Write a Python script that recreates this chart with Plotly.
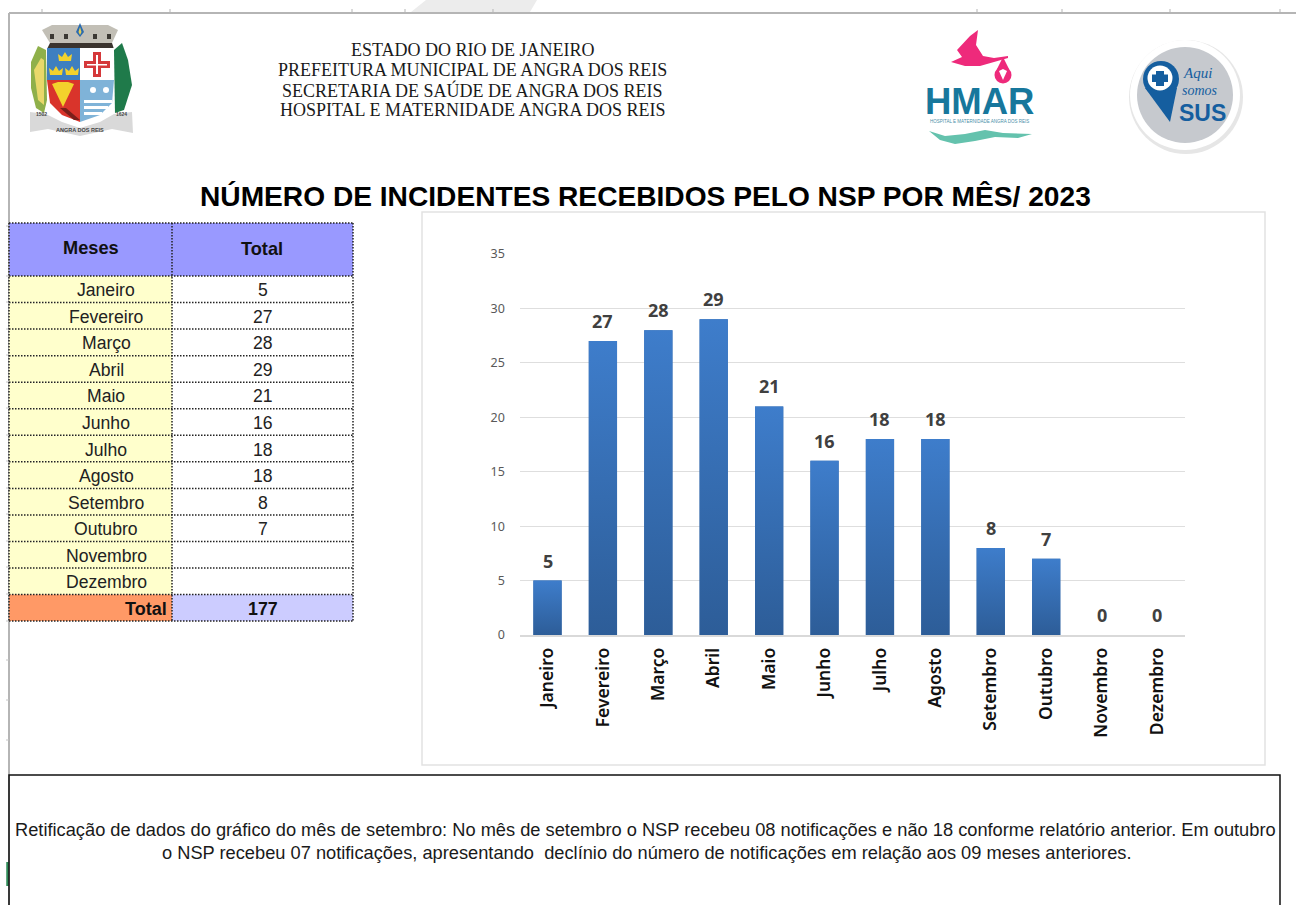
import plotly.graph_objects as go

W, H = 1296, 905
months = ["Janeiro","Fevereiro","Março","Abril","Maio","Junho","Julho","Agosto","Setembro","Outubro","Novembro","Dezembro"]
chart_values = [5,27,28,29,21,16,18,18,8,7,0,0]
table_values = ["5","27","28","29","21","16","18","18","8","7","",""]
table_total = "177"
y_ticks = [0,5,10,15,20,25,30,35]
head_lines = ["ESTADO DO RIO DE JANEIRO","PREFEITURA MUNICIPAL DE ANGRA DOS REIS","SECRETARIA DE SAÚDE DE ANGRA DOS REIS","HOSPITAL E MATERNIDADE ANGRA DOS REIS"]
title_text = "NÚMERO DE INCIDENTES RECEBIDOS PELO NSP POR MÊS/ 2023"
note_lines = ["Retificação de dados do gráfico do mês de setembro: No mês de setembro o NSP recebeu 08 notificações e não 18 conforme relatório anterior. Em outubro",
              "o NSP recebeu 07 notificações, apresentando  declínio do número de notificações em relação aos 09 meses anteriores."]

px = lambda x: x / W
py = lambda y: 1 - y / H
shapes, annos = [], []

def rect(x0, y0, x1, y1, fill="rgba(0,0,0,0)", color="rgba(0,0,0,0)", width=0, dash="solid", layer="below"):
    shapes.append(dict(type="rect", xref="paper", yref="paper", x0=px(x0), x1=px(x1), y0=py(y0), y1=py(y1),
                       fillcolor=fill, line=dict(color=color, width=width, dash=dash), layer=layer))

def line(x0, y0, x1, y1, color="#333", width=1, dash="solid", layer="below"):
    shapes.append(dict(type="line", xref="paper", yref="paper", x0=px(x0), x1=px(x1), y0=py(y0), y1=py(y1),
                       line=dict(color=color, width=width, dash=dash), layer=layer))

def circle(cx, cy, r, fill, color="rgba(0,0,0,0)", width=0):
    shapes.append(dict(type="circle", xref="paper", yref="paper", x0=px(cx-r), x1=px(cx+r), y0=py(cy+r), y1=py(cy-r),
                       fillcolor=fill, line=dict(color=color, width=width), layer="above"))

def poly(points, fill, color="rgba(0,0,0,0)", width=0, layer="above"):
    pts = [f"{px(x):.5f},{py(y):.5f}" for x, y in points]
    path = "M" + " L".join(pts) + " Z"
    shapes.append(dict(type="path", xref="paper", yref="paper", path=path, fillcolor=fill,
                       line=dict(color=color, width=width), layer=layer))

def text(x, y, s, size, color="#000", font="Liberation Sans", bold=False, italic=False, anchor="center", angle=0):
    if bold: s = f"<b>{s}</b>"
    if italic: s = f"<i>{s}</i>"
    annos.append(dict(xref="paper", yref="paper", x=px(x), y=py(y), text=s, showarrow=False, xanchor=anchor,
                      yanchor="middle", textangle=angle, font=dict(family=font, size=size, color=color)))

# spreadsheet chrome
poly([(426,0),(537,0),(530,12),(411,12)], "#ececec", layer="below")
line(9, 13, 1296, 13, "#b5b5b5", 2)
for x in [42,170,352,405,493,977,1062,1170,1280]:
    line(x, 9, x, 13, "#b5b5b5", 1)
line(9, 13, 9, 905, "#b5b5b5", 2)
for y in [226,276,302,329,355,382,408,435,461,488,514,541,567,594,621,660,700,740]:
    line(6, y, 9, y, "#c4c4c4", 1)
line(7.5, 862, 7.5, 886, "#2e8b57", 2.5)

# heading
for i, s in enumerate(head_lines):
    text(472.5, 50 + i*20.1, s, 18, "#1a1a1a", "Liberation Serif")
text(645, 196, title_text, 28.15, "#000", bold=True)

# table
xa, xb, xc = 9, 172, 353
top, head_bot, row_h = 223, 276, 26.55
rect(xa, top, xc, head_bot, "#9999ff")
text(91, 248, "Meses", 18.2, "#111", bold=True)
text(262, 249, "Total", 18.2, "#111", bold=True)
for i, (m, v) in enumerate(zip(months, table_values)):
    y0 = head_bot + i*row_h
    rect(xa, y0, xb, y0+row_h, "#ffffcc")
    text(106, y0+row_h/2+1, m, 17.6, "#222")
    text(262.5, y0+row_h/2+1, v, 17.6, "#222")
tt = head_bot + 12*row_h
tb = tt + 26.5
rect(xa, tt, xb, tb, "#ff9966")
rect(xb, tt, xc, tb, "#ccccff")
text(169, (tt+tb)/2+1, "Total", 18, "#111", bold=True, anchor="right")
text(262.5, (tt+tb)/2+1, table_total, 17.8, "#111", bold=True)
for y in [top, head_bot] + [head_bot + (i+1)*row_h for i in range(12)] + [tb]:
    line(xa, y, xc, y, "#222", 1.5, "1.5px,1.5px")
for x in [xa, xb, xc]:
    line(x, top, x, tb, "#222", 1.5, "1.5px,1.5px")

# chart frame
rect(422, 212, 1265, 765, "#ffffff", "#e2e2e2", 1.5)

# note box
rect(9, 775, 1280, 915, "rgba(0,0,0,0)", "#111", 1.5)
text(645, 829, note_lines[0], 18.25, "#1a1a1a")
text(646.5, 852, note_lines[1], 18.25, "#1a1a1a")

# crest
poly([(31,62),(38,46),(46,50),(47,100),(44,113),(36,108),(31,88)], "#8fb04a")
poly([(34,70),(41,58),(44,60),(44,105),(38,100)], "#e9d86a")
poly([(114,50),(122,43),(128,60),(132,85),(124,110),(115,113)], "#1f7a4a")
poly([(42,30),(52,25),(108,25),(118,30),(112,43),(50,43)], "#c2bfb6")
for cx in [52, 66, 95, 109]:
    rect(cx-2, 34, cx+2, 39, "#3b3833", layer="above")
poly([(76,32),(80,23),(84,32),(80,37)], "#2a6ab0")
poly([(78.5,32),(80,27),(81.5,32),(80,35)], "#e5cf55")
poly([(50,43),(112,43),(114,49),(47,49)], "#3a332e")
rect(47, 48, 80, 80, "#3e7fc0", layer="above")
rect(80, 48, 114, 80, "#ffffff", layer="above")
poly([(47,80),(80,80),(80,122),(62,115),(50,103)], "#d9342b")
poly([(80,80),(114,80),(112,103),(100,115),(80,122)], "#7fb3d8")
for cx, cy in [(65,58),(56,72),(72,72)]:
    poly([(cx-7,cy-4),(cx-3,cy-1),(cx,cy-6),(cx+3,cy-1),(cx+7,cy-4),(cx+6,cy+3),(cx-6,cy+3)], "#f3d22c")
rect(93, 52, 101, 77, "#d5383a", layer="above")
rect(84, 61, 110, 68, "#d5383a", layer="above")
rect(96, 55, 98, 74, "#ffffff", layer="above")
rect(87, 64, 107, 65.5, "#ffffff", layer="above")
poly([(52,84),(63,107),(74,84),(68,82),(58,82)], "#f3d22c")
poly([(60,108),(66,108),(80,120),(74,120)], "#7a1f1a")
for y0, x0, x1 in [(100,84,112),(106,84,108),(112,84,102)]:
    rect(x0, y0, x1, y0+3, "#ffffff", layer="above")
circle(93, 90, 3, "#ffffff"); circle(106, 90, 3, "#ffffff")
poly([(30,112),(46,114),(62,122),(80,128),(100,122),(114,114),(132,112),(133,133),(112,129),(80,136),(48,129),(30,132)], "#d9d9d9")
text(80, 130, "ANGRA DOS REIS", 5.5, "#444", bold=True)
text(41, 114, "1502", 5, "#444", bold=True)
text(121, 114, "1624", 5, "#444", bold=True)

# HMAR logo
pink = "#ee2a7b"
poly([(978,30),(976,45),(983,56),(994,58),(1008,56),(1008,58),(994,62),(980,66),(965,66),(951,62),(962,57),(957,50),(970,36)], pink)
circle(1003, 75, 8.5, pink)
poly([(997,69),(1003,57),(1009,69)], pink)
poly([(999,71),(1003,69),(1007,71),(1003,80)], "#ffffff")
text(979, 102, "HMAR", 36.5, "#17779c", "Liberation Sans", bold=True)
text(979, 121, "HOSPITAL E MATERNIDADE ANGRA DOS REIS", 4.5, "#4a8fa8")
poly([(929,131),(945,136),(965,134),(985,130),(1003,133),(1032,134),(1018,138),(995,137),(975,141),(955,144),(940,140)], "#64c2ad")

# SUS logo
circle(1186, 97, 57, "#e6e6e6")
circle(1185, 95, 55, "#ffffff")
circle(1185, 95, 48, "#c6c9ce")
circle(1161, 79, 18, "#155e9f")
poly([(1145,88),(1177,88),(1170,122)], "#155e9f")
circle(1160, 78, 12.5, "#ffffff")
rect(1156, 71, 1164, 86, "#155e9f", layer="above")
rect(1152, 74.5, 1168, 82, "#155e9f", layer="above")
text(1197, 73, "Aqui", 15, "#155e9f", "Liberation Serif", italic=True)
text(1200, 91, "somos", 14, "#155e9f", "Liberation Serif", italic=True)
text(1202, 113, "SUS", 23, "#155e9f", bold=True)

# chart
xs = list(range(len(months)))
half = 0.255
fig = go.Figure()
fig.add_bar(x=xs, y=chart_values, width=half*2, marker=dict(color="#3568a8", line=dict(width=0)), hoverinfo="skip")
for x, v in zip(xs, chart_values):
    if v > 0:
        fig.add_scatter(x=[x-half, x-half, x+half, x+half, x-half], y=[0, v, v, 0, 0], mode="lines",
                        line=dict(width=0), fill="toself", hoverinfo="skip",
                        fillgradient=dict(type="vertical", colorscale=[[0, "#2d5d98"], [1, "#3e7dcb"]]))
    annos.append(dict(xref="x", yref="y", x=x, y=v, text=f"<b>{v}</b>", showarrow=False, yshift=20, yanchor="middle",
                      font=dict(family="Noto Sans", size=18, color="#404040")))

plot_l, plot_r, plot_t, plot_b = 519.8, 1184.7, 254, 635
fig.update_layout(
    width=W, height=H, margin=dict(l=0, r=0, t=0, b=0, pad=0, autoexpand=False), paper_bgcolor="#ffffff", plot_bgcolor="rgba(0,0,0,0)",
    showlegend=False, shapes=shapes, annotations=annos,
    xaxis=dict(domain=[px(plot_l), px(plot_r)], range=[-0.5, 11.5], tickmode="array", tickvals=xs, ticktext=months,
               tickangle=-90, showgrid=False, zeroline=False, showline=True, linecolor="#d9d9d9", linewidth=1.5,
               ticks="", ticklabelstandoff=4, tickfont=dict(family="Noto Sans", size=17.5, color="#111", weight=600)),
    yaxis=dict(domain=[py(plot_b), py(plot_t)], range=[0, 35], tickmode="array", tickvals=y_ticks, showgrid=True,
               gridcolor="#dedede", gridwidth=1, zeroline=False, showline=False, ticks="", ticklabelstandoff=14,
               tickfont=dict(family="Noto Sans", size=12.5, color="#595959")),
)
fig.write_html("out.html", config=dict(displayModeBar=False),
               post_script="document.body.style.margin='0';document.documentElement.style.overflow='hidden';")
